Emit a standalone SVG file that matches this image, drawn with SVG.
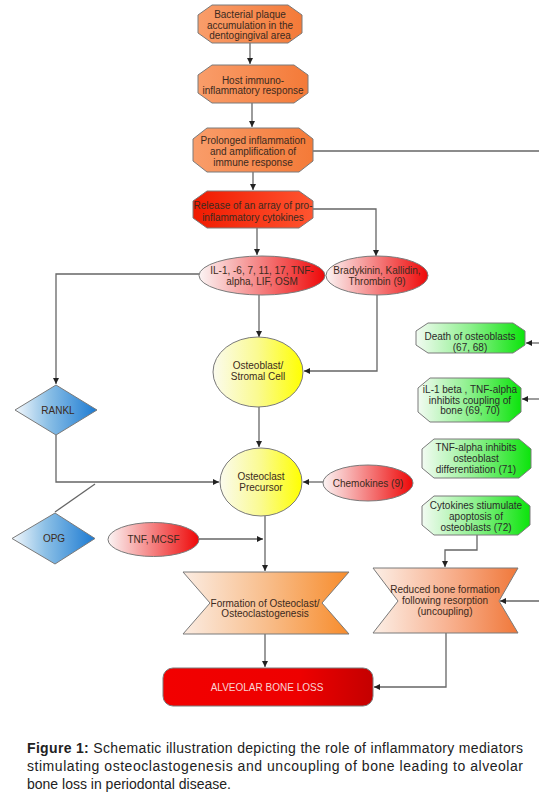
<svg xmlns="http://www.w3.org/2000/svg" width="539" height="795" viewBox="0 0 539 795">
<defs>
<linearGradient id="gOrange" x1="0" y1="0" x2="1" y2="0"><stop offset="0" stop-color="#f99d6a"/><stop offset="1" stop-color="#f47a38"/></linearGradient>
<linearGradient id="gRedBox" x1="0" y1="0" x2="1" y2="0"><stop offset="0" stop-color="#f01a00"/><stop offset="1" stop-color="#ff5530"/></linearGradient>
<linearGradient id="gRedEll" x1="0" y1="0" x2="1" y2="0"><stop offset="0" stop-color="#fbf4f4"/><stop offset="0.45" stop-color="#f58a8a"/><stop offset="1" stop-color="#ee0808"/></linearGradient>
<linearGradient id="gYellow" x1="0" y1="0" x2="1" y2="0"><stop offset="0" stop-color="#fbfbee"/><stop offset="0.5" stop-color="#fafa90"/><stop offset="1" stop-color="#ffff00"/></linearGradient>
<linearGradient id="gBlue" x1="0" y1="0" x2="1" y2="0"><stop offset="0" stop-color="#f4f8fc"/><stop offset="0.4" stop-color="#8cc0e6"/><stop offset="1" stop-color="#1c7ad2"/></linearGradient>
<linearGradient id="gGreen" x1="0" y1="0" x2="1" y2="0"><stop offset="0" stop-color="#f2fbf2"/><stop offset="0.5" stop-color="#8cf08c"/><stop offset="1" stop-color="#0ce40c"/></linearGradient>
<linearGradient id="gForm" x1="0" y1="0" x2="1" y2="0"><stop offset="0" stop-color="#fbece2"/><stop offset="0.5" stop-color="#f8be8c"/><stop offset="1" stop-color="#f78c2c"/></linearGradient>
<linearGradient id="gRed2" x1="0" y1="0" x2="1" y2="0"><stop offset="0" stop-color="#fcefe6"/><stop offset="0.5" stop-color="#f8b494"/><stop offset="1" stop-color="#f0783a"/></linearGradient>
<linearGradient id="gLoss" x1="0" y1="0" x2="1" y2="0"><stop offset="0" stop-color="#f20000"/><stop offset="0.65" stop-color="#ee0000"/><stop offset="1" stop-color="#c40000"/></linearGradient>
<marker id="arr" viewBox="0 0 10 10" refX="10" refY="5" markerWidth="6" markerHeight="6" markerUnits="userSpaceOnUse" orient="auto"><path d="M0,0 L10,5 L0,10 z" fill="#222"/></marker>
<style>
.sh{stroke:#7a7a7a;stroke-width:1}
.t{font-family:"Liberation Sans",Arial,sans-serif;font-size:10px;text-anchor:middle;fill:#3b2a20}
.tg{font-family:"Liberation Sans",Arial,sans-serif;font-size:10px;text-anchor:middle;fill:#2a2a2a}
.c{fill:none;stroke:#666;stroke-width:1.3}
.ca{fill:none;stroke:#666;stroke-width:1.3;marker-end:url(#arr)}
.cap{font-family:"Liberation Sans",Arial,sans-serif;font-size:14px;fill:#222}
</style>
</defs>
<rect width="539" height="795" fill="#fff"/>

<g id="connectors">
<line class="ca" x1="250" y1="43" x2="250" y2="64"/>
<line class="ca" x1="252" y1="103" x2="252" y2="127"/>
<line class="ca" x1="253" y1="172" x2="253" y2="190"/>
<line class="c" x1="313" y1="151" x2="539" y2="151"/>
<line class="ca" x1="257" y1="228" x2="257" y2="255"/>
<path class="ca" d="M313,209 H376 V256"/>
<path class="ca" d="M199,274 H56 V384"/>
<line class="ca" x1="259" y1="295" x2="259" y2="337"/>
<path class="ca" d="M377,295 V371 H304"/>
<line class="ca" x1="259" y1="407" x2="259" y2="447"/>
<path class="ca" d="M56,435 V482 H219"/>
<line class="ca" x1="323" y1="482" x2="303" y2="482"/>
<line class="c" x1="55" y1="512" x2="95" y2="484"/>
<line class="ca" x1="199" y1="539" x2="263" y2="539"/>
<line class="ca" x1="265" y1="516" x2="265" y2="571"/>
<line class="ca" x1="265" y1="634" x2="265" y2="667"/>
<path class="ca" d="M446,633 V687 H374"/>
<path class="ca" d="M477,535 V550 H445 V567"/>
<line class="ca" x1="539" y1="601" x2="500" y2="601"/>
<line class="ca" x1="539" y1="343" x2="526" y2="343"/>
<line class="ca" x1="539" y1="399" x2="522" y2="399"/>
</g>

<g id="n1">
<polygon class="sh" fill="url(#gOrange)" points="212,5 288,5 302,15 302,33 288,43 212,43 198,33 198,15"/>
<text class="t" x="250" y="17.5">Bacterial plaque</text>
<text class="t" x="250" y="28.5">accumulation in the</text>
<text class="t" x="250" y="39">dentogingival area</text>
</g>
<g id="n2">
<polygon class="sh" fill="url(#gOrange)" points="212,65 294,65 308,75 308,93 294,103 212,103 198,93 198,75"/>
<text class="t" x="253" y="83.5">Host immuno-</text>
<text class="t" x="253" y="93.5">inflammatory response</text>
</g>
<g id="n3">
<polygon class="sh" fill="url(#gOrange)" points="207,128 299,128 313,139 313,161 299,172 207,172 193,161 193,139"/>
<text class="t" x="253" y="143.5">Prolonged inflammation</text>
<text class="t" x="253" y="155">and amplification of</text>
<text class="t" x="253" y="166">immune response</text>
</g>
<g id="n4">
<polygon class="sh" fill="url(#gRedBox)" points="207,191 299,191 313,201 313,218 299,228 207,228 193,218 193,201"/>
<text class="t" x="253" y="208.5">Release of an array of pro-</text>
<text class="t" x="253" y="220.5">inflammatory cytokines</text>
</g>
<g id="il">
<ellipse class="sh" fill="url(#gRedEll)" cx="262" cy="275.5" rx="63" ry="19.5"/>
<text class="t" x="262" y="273.5">IL-1, -6, 7, 11, 17, TNF-</text>
<text class="t" x="262" y="284.5">alpha, LIF, OSM</text>
</g>
<g id="brady">
<ellipse class="sh" fill="url(#gRedEll)" cx="377" cy="275.5" rx="51" ry="19.5"/>
<text class="t" x="377" y="273.5">Bradykinin, Kallidin,</text>
<text class="t" x="377" y="284.5">Thrombin (9)</text>
</g>
<g id="osteoblast">
<ellipse class="sh" fill="url(#gYellow)" cx="258" cy="372" rx="45" ry="35"/>
<text class="t" x="258" y="368.5">Osteoblast/</text>
<text class="t" x="258" y="379.5">Stromal Cell</text>
</g>
<g id="rankl">
<polygon class="sh" fill="url(#gBlue)" points="56,385 97,410 56,435 15,410"/>
<text class="t" x="58" y="413.5">RANKL</text>
</g>
<g id="precursor">
<ellipse class="sh" fill="url(#gYellow)" cx="261" cy="482" rx="41" ry="34"/>
<text class="t" x="261" y="479.5">Osteoclast</text>
<text class="t" x="261" y="490.5">Precursor</text>
</g>
<g id="chemokines">
<ellipse class="sh" fill="url(#gRedEll)" cx="368" cy="483" rx="45" ry="18"/>
<text class="t" x="368" y="486.5">Chemokines (9)</text>
</g>
<g id="opg">
<polygon class="sh" fill="url(#gBlue)" points="55,513 95,538.5 55,564 12,538.5"/>
<text class="t" x="54" y="542">OPG</text>
</g>
<g id="tnfmcsf">
<ellipse class="sh" fill="url(#gRedEll)" cx="153.5" cy="539.5" rx="45.5" ry="17"/>
<text class="t" x="153.5" y="543">TNF, MCSF</text>
</g>
<g id="formation">
<polygon class="sh" fill="url(#gForm)" points="183,572 349,572 322,603 349,634 183,634 210,603"/>
<text class="t" x="265" y="606.5">Formation of Osteoclast/</text>
<text class="t" x="265" y="617">Osteoclastogenesis</text>
</g>
<g id="reduced">
<polygon class="sh" fill="url(#gRed2)" points="373,568 518,568 499,601 518,633 373,633 398,601"/>
<text class="t" x="445" y="593">Reduced bone formation</text>
<text class="t" x="445" y="604">following resorption</text>
<text class="t" x="445" y="615">(uncoupling)</text>
</g>
<g id="loss">
<rect class="sh" fill="url(#gLoss)" x="163" y="668" width="210" height="38" rx="10" ry="10"/>
<text class="t" x="267" y="690.5" style="fill:#f8d4d4">ALVEOLAR BONE LOSS</text>
</g>
<g id="death">
<polygon class="sh" fill="url(#gGreen)" points="428,323 513,323 525,331 525,345 513,353 428,353 416,345 416,331"/>
<text class="tg" x="470" y="339.5">Death of osteoblasts</text>
<text class="tg" x="470" y="350.5">(67, 68)</text>
</g>
<g id="il1beta">
<polygon class="sh" fill="url(#gGreen)" points="430,378 509,378 521,388 521,412 509,422 430,422 418,412 418,388"/>
<text class="tg" x="470" y="392.5">iL-1 beta , TNF-alpha</text>
<text class="tg" x="470" y="403.5">inhibits coupling of</text>
<text class="tg" x="470" y="414">bone (69, 70)</text>
</g>
<g id="tnfalpha">
<polygon class="sh" fill="url(#gGreen)" points="434,439 519,439 531,449 531,468 519,478 434,478 422,468 422,449"/>
<text class="tg" x="476" y="450.5">TNF-alpha inhibits</text>
<text class="tg" x="476" y="461.5">osteoblast</text>
<text class="tg" x="476" y="473">differentiation (71)</text>
</g>
<g id="cytokines">
<polygon class="sh" fill="url(#gGreen)" points="434,496 518,496 530,506 530,525 518,535 434,535 422,525 422,506"/>
<text class="tg" x="476" y="508.5">Cytokines stiumulate</text>
<text class="tg" x="476" y="519.5">apoptosis of</text>
<text class="tg" x="476" y="530.5">osteoblasts (72)</text>
</g>

<g id="caption">
<text class="cap" x="27" y="753" textLength="496" lengthAdjust="spacing"><tspan font-weight="bold">Figure 1:</tspan> Schematic illustration depicting the role of inflammatory mediators</text>
<text class="cap" x="27" y="771" textLength="496" lengthAdjust="spacing">stimulating osteoclastogenesis and uncoupling of bone leading to alveolar</text>
<text class="cap" x="27" y="789">bone loss in periodontal disease.</text>
</g>
</svg>
